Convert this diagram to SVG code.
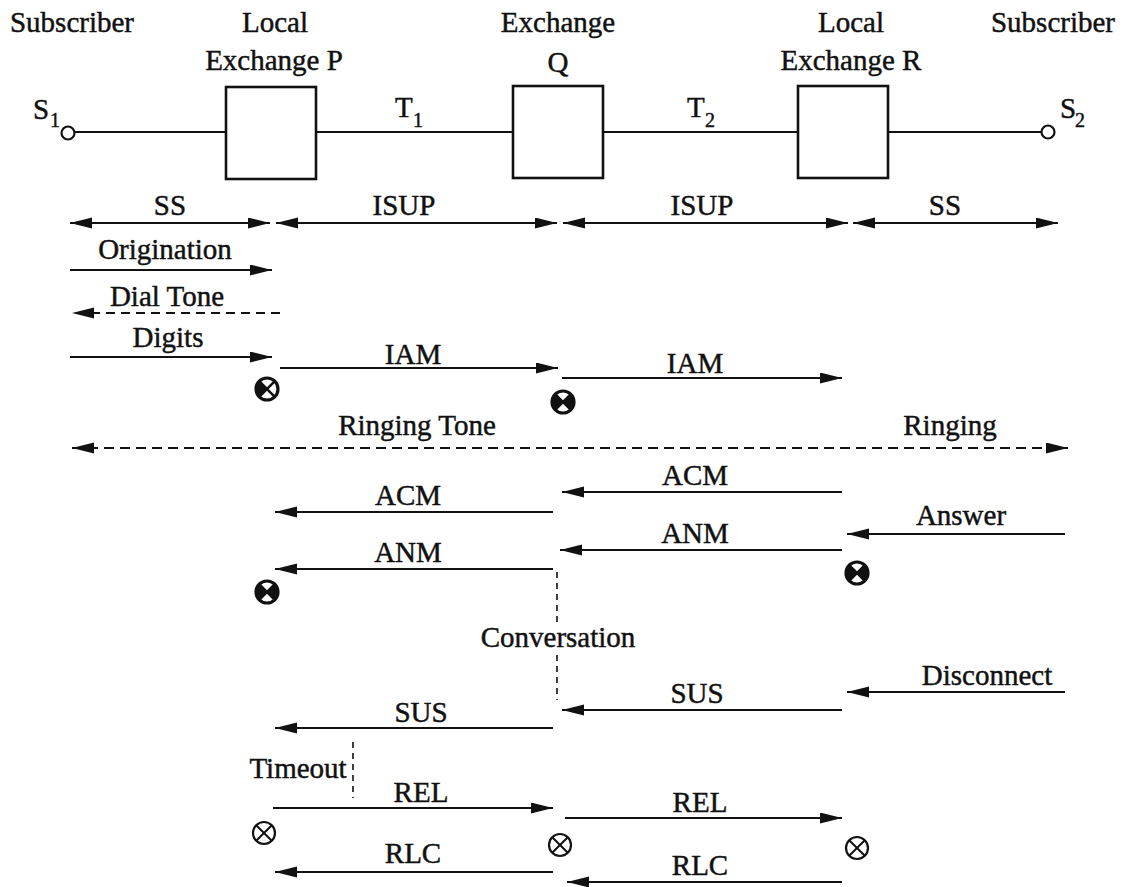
<svg xmlns="http://www.w3.org/2000/svg" width="1125" height="887" viewBox="0 0 1125 887">
<style>
text{font-family:"Liberation Serif","Times New Roman",serif;font-size:29px;fill:#111;stroke:#111;stroke-width:0.45;text-anchor:middle}
.sub{font-size:20px;text-anchor:start}
.st{text-anchor:start}
.ln{stroke:#111;stroke-width:2.2;fill:none}
.dash{stroke:#111;stroke-width:1.6;fill:none;stroke-dasharray:6 5}
.box{stroke:#111;stroke-width:2.6;fill:#fff}
.arr{stroke:#111;stroke-width:2.2;fill:none;marker-end:url(#ah)}
.arr2{stroke:#111;stroke-width:2.2;fill:none;marker-end:url(#ah);marker-start:url(#ahs)}
.arrd{stroke:#111;stroke-width:2.2;fill:none;stroke-dasharray:9 6;marker-end:url(#ah)}
.arrd2{stroke:#111;stroke-width:2.2;fill:none;stroke-dasharray:10 6;marker-end:url(#ah);marker-start:url(#ahs)}
</style>
<defs>
<marker id="ah" markerUnits="userSpaceOnUse" markerWidth="24" markerHeight="12" refX="22" refY="5.5" orient="auto"><path d="M0,0 L22,5.5 L0,11 z" fill="#111"/></marker>
<marker id="ahs" markerUnits="userSpaceOnUse" markerWidth="24" markerHeight="12" refX="22" refY="5.5" orient="auto-start-reverse"><path d="M0,0 L22,5.5 L0,11 z" fill="#111"/></marker>
<g id="symX"><circle r="11" fill="#fff" stroke="#111" stroke-width="2.2"/><path d="M-7.8,-7.8 L7.8,7.8 M-7.8,7.8 L7.8,-7.8" stroke="#111" stroke-width="2"/></g>
<g id="symL"><circle r="11" fill="#fff" stroke="#111" stroke-width="3.2"/><path d="M0,0 L-7.8,-7.8 A11,11 0 0 0 -7.8,7.8 z" fill="#111"/><path d="M-7.8,-7.8 L7.8,7.8 M-7.8,7.8 L7.8,-7.8" stroke="#111" stroke-width="2.5"/></g>
<g id="symH"><circle r="11" fill="#fff" stroke="#111" stroke-width="3.2"/><path d="M0,0 L-7.8,-7.8 A11,11 0 0 0 -7.8,7.8 z M0,0 L7.8,-7.8 A11,11 0 0 1 7.8,7.8 z" fill="#111"/><path d="M-7.8,-7.8 L7.8,7.8 M-7.8,7.8 L7.8,-7.8" stroke="#111" stroke-width="2.5"/></g>
</defs>

<g id="headers">
<text x="72" y="32">Subscriber</text>
<text x="1053" y="32">Subscriber</text>
</g>

<g id="connectors">
<line class="ln" x1="74" y1="132" x2="226" y2="132"/>
<line class="ln" x1="316" y1="132" x2="513" y2="132"/>
<line class="ln" x1="603" y1="132" x2="798" y2="132"/>
<line class="ln" x1="888" y1="132" x2="1042" y2="132"/>
<line class="arr2" x1="70" y1="223" x2="270" y2="223"/>
<line class="arr2" x1="276" y1="223" x2="557" y2="223"/>
<line class="arr2" x1="563" y1="223" x2="848" y2="223"/>
<line class="arr2" x1="853" y1="223" x2="1058" y2="223"/>
<line class="arr" x1="70" y1="270" x2="272" y2="270"/>
<line class="arrd" x1="280" y1="313" x2="72" y2="313"/>
<line class="arr" x1="70" y1="357" x2="272" y2="357"/>
<line class="arr" x1="280" y1="368" x2="558" y2="368"/>
<line class="arr" x1="562" y1="378" x2="842" y2="378"/>
<line class="arrd2" x1="72" y1="448" x2="1068" y2="448"/>
<line class="arr" x1="842" y1="492" x2="562" y2="492"/>
<line class="arr" x1="553" y1="512" x2="275" y2="512"/>
<line class="arr" x1="1065" y1="534" x2="847" y2="534"/>
<line class="arr" x1="842" y1="550" x2="560" y2="550"/>
<line class="arr" x1="553" y1="569" x2="275" y2="569"/>
<line class="dash" x1="557" y1="572" x2="557" y2="622"/>
<line class="dash" x1="557" y1="655" x2="557" y2="700"/>
<line class="arr" x1="1065" y1="692" x2="847" y2="692"/>
<line class="arr" x1="842" y1="710" x2="562" y2="710"/>
<line class="arr" x1="553" y1="728" x2="275" y2="728"/>
<line class="dash" x1="353" y1="742" x2="353" y2="798"/>
<line class="arr" x1="273" y1="808" x2="553" y2="808"/>
<line class="arr" x1="565" y1="818" x2="842" y2="818"/>
<line class="arr" x1="553" y1="872" x2="275" y2="872"/>
<line class="arr" x1="842" y1="882" x2="567" y2="882"/>
</g>

<g id="S1">
<circle cx="68" cy="133" r="6.5" fill="#fff" stroke="#111" stroke-width="2.2"/>
<text class="st" x="33" y="119">S</text><text class="sub" x="50" y="127">1</text>
</g>
<g id="P">
<text x="275" y="32">Local</text>
<text x="274" y="70">Exchange P</text>
<rect class="box" x="226" y="87" width="90" height="92"/>
</g>
<g id="Q">
<text x="558" y="32">Exchange</text>
<text x="558" y="72">Q</text>
<rect class="box" x="513" y="86" width="90" height="92"/>
</g>
<g id="R">
<text x="851" y="32">Local</text>
<text x="851" y="70">Exchange R</text>
<rect class="box" x="798" y="86" width="90" height="92"/>
</g>
<g id="S2">
<circle cx="1048" cy="132" r="6.5" fill="#fff" stroke="#111" stroke-width="2.2"/>
<text class="st" x="1060" y="118">S</text><text class="sub" x="1075" y="127">2</text>
</g>

<g id="labels">
<text class="st" x="395" y="117">T</text><text class="sub" x="413" y="127">1</text>
<text class="st" x="687" y="117">T</text><text class="sub" x="705" y="127">2</text>
<text x="170" y="215">SS</text>
<text x="404" y="215">ISUP</text>
<text x="702" y="215">ISUP</text>
<text x="945" y="215">SS</text>
<text x="165" y="259">Origination</text>
<text x="167" y="306">Dial Tone</text>
<text x="168" y="347">Digits</text>
<text x="413" y="364">IAM</text>
<text x="695" y="373">IAM</text>
<text x="417" y="435">Ringing Tone</text>
<text x="950" y="435">Ringing</text>
<text x="695" y="485">ACM</text>
<text x="408" y="505">ACM</text>
<text x="961" y="525">Answer</text>
<text x="695" y="543">ANM</text>
<text x="408" y="562">ANM</text>
<text x="558" y="647">Conversation</text>
<text x="987" y="685">Disconnect</text>
<text x="697" y="703">SUS</text>
<text x="421" y="722">SUS</text>
<text x="298" y="778">Timeout</text>
<text x="421" y="802">REL</text>
<text x="700" y="812">REL</text>
<text x="413" y="863">RLC</text>
<text x="700" y="875">RLC</text>
</g>

<g id="symbols">
<use href="#symL" x="267" y="389"/>
<use href="#symH" x="563" y="402"/>
<use href="#symH" x="857" y="573"/>
<use href="#symH" x="267" y="592"/>
<use href="#symX" x="264" y="833"/>
<use href="#symX" x="560" y="845"/>
<use href="#symX" x="857" y="848"/>
</g>
</svg>
